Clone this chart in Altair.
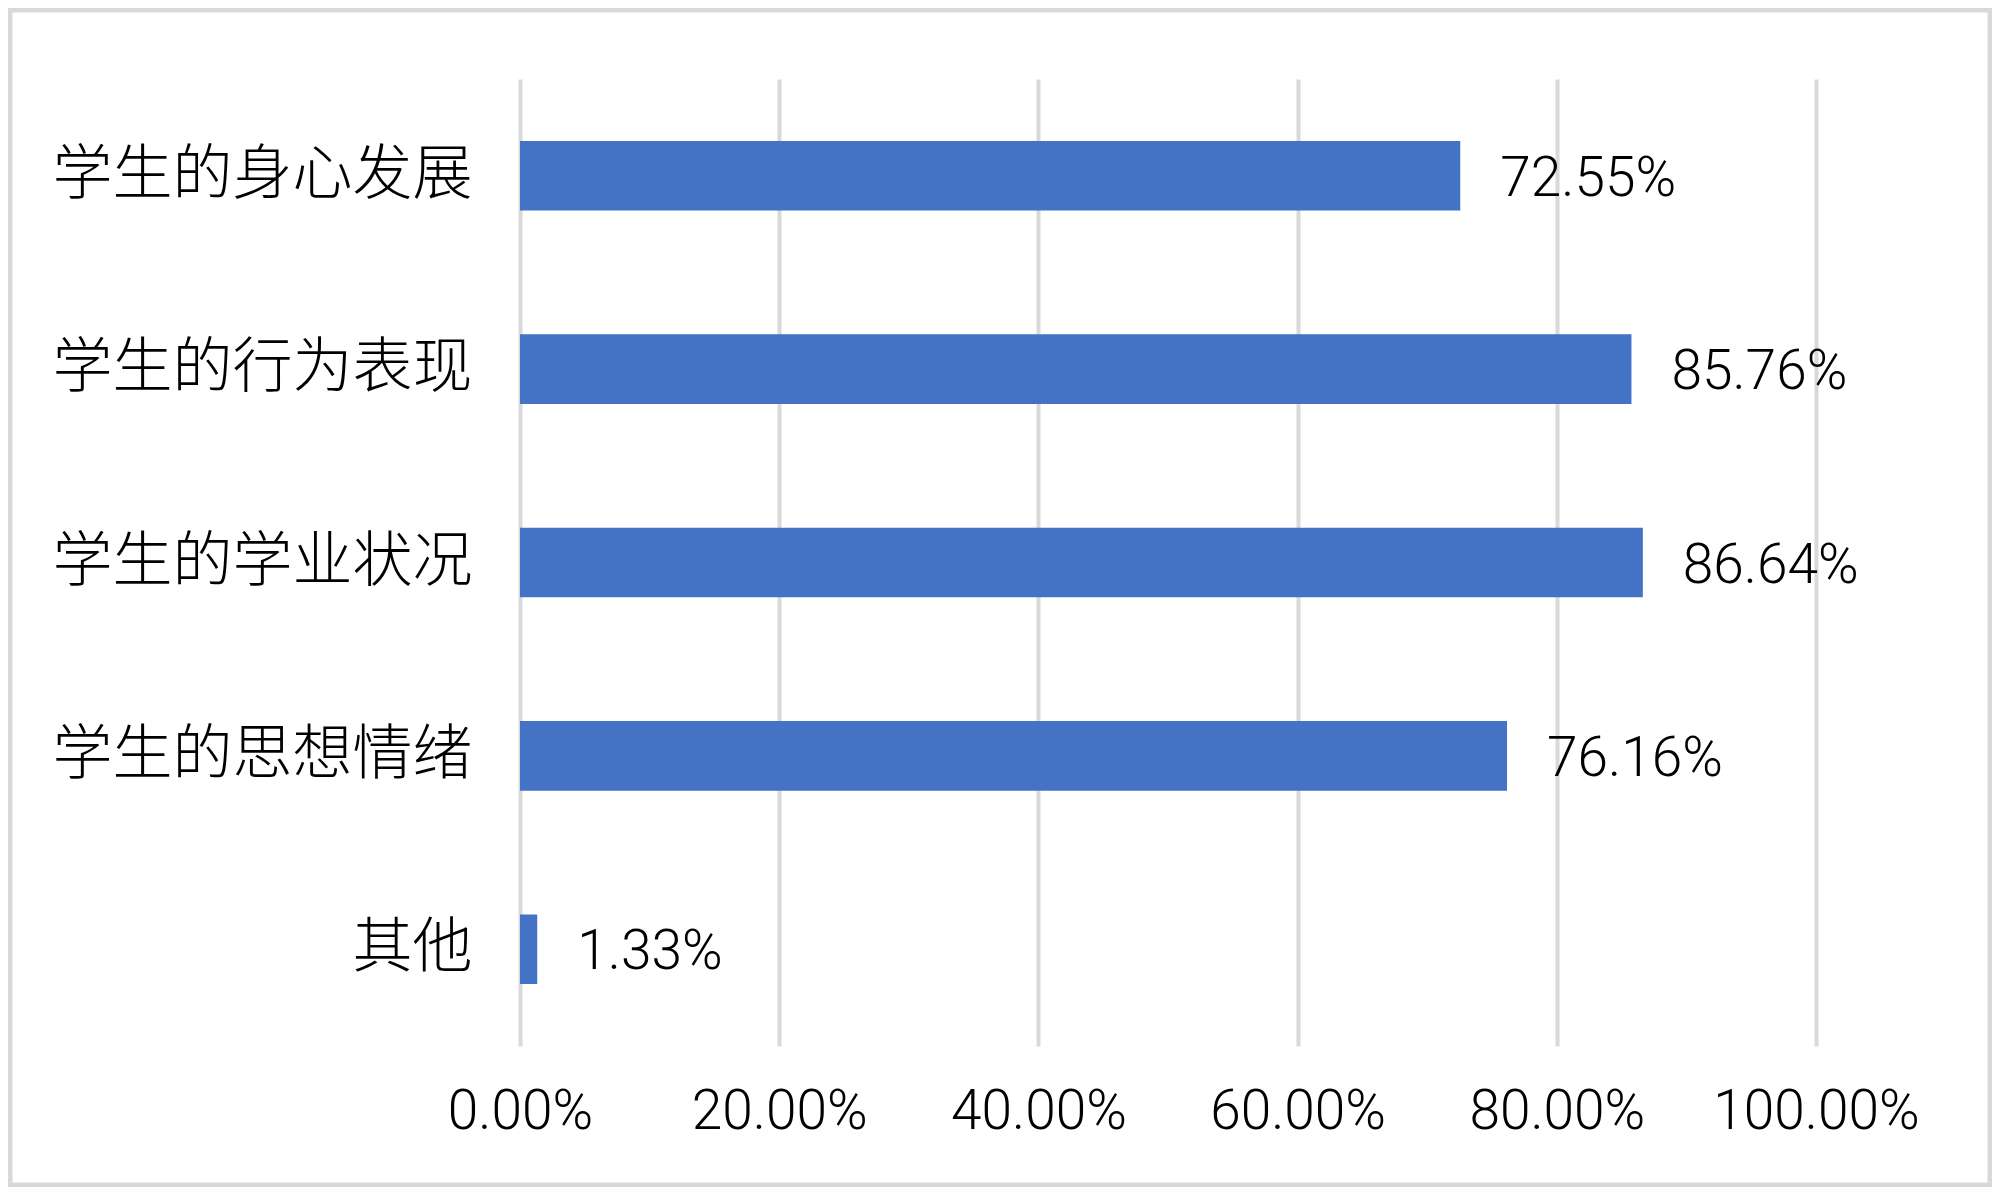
import altair as alt
import pandas as pd

categories = ["学生的身心发展", "学生的行为表现", "学生的学业状况", "学生的思想情绪", "其他"]
values = [72.55, 85.76, 86.64, 76.16, 1.33]
tick_values = [0, 20, 40, 60, 80, 100]

df = pd.DataFrame({"category": categories, "value": values})

NUM_FONT = "Roboto"
CJK_FONT = "Noto Sans CJK SC"

x_enc = alt.X(
    "value:Q",
    scale=alt.Scale(domain=[0, 100], nice=False, zero=True),
    axis=alt.Axis(
        values=tick_values,
        labelExpr="format(datum.value, '.2f') + '%'",
        title=None,
        domain=False,
        ticks=False,
        tickSize=0,
        labelPadding=39,
        labelFont=NUM_FONT,
        labelFontSize=55,
        labelFontWeight=300,
        labelColor="#000000",
        labelFlush=False,
        labelOverlap=False,
        labelBound=False,
        labelLimit=0,
        labelAlign="center",
        grid=True,
        gridColor="#d9d9d9",
        gridWidth=4,
    ),
)
y_enc = alt.Y(
    "category:N",
    sort=categories,
    scale=alt.Scale(paddingInner=0.64, paddingOuter=0.32),
    axis=alt.Axis(
        title=None,
        domain=False,
        ticks=False,
        tickSize=0,
        labelPadding=48,
        labelFont=CJK_FONT,
        labelFontSize=60,
        labelColor="#000000",
        labelFontWeight=300,
        labelLimit=0,
        grid=False,
    ),
)

bars = alt.Chart(df).mark_bar(color="#4472C4").encode(x=x_enc, y=y_enc)

labels = (
    alt.Chart(df)
    .transform_calculate(label="format(datum.value, '.2f') + '%'")
    .mark_text(align="left", baseline="middle", dx=40, dy=3, font=NUM_FONT, fontSize=55, fontWeight=300, color="#000000")
    .encode(x="value:Q", y=alt.Y("category:N", sort=categories), text="label:N")
)

frame = (
    alt.Chart(pd.DataFrame({"a": [0]}))
    .mark_rect(fill=None, stroke="#d9d9d9", strokeWidth=5)
    .encode(x=alt.value(-510), x2=alt.value(1470), y=alt.value(-69), y2=alt.value(1106))
)

chart = (
    alt.layer(frame, bars, labels)
    .properties(
        width=1296,
        height=967,
        autosize=alt.AutoSizeParams(type="none"),
        padding={"left": 512, "top": 71, "right": 176, "bottom": 141},
        background="#ffffff",
    )
    .configure_view(stroke=None)
)

chart.save("out.html", embed_options={"renderer": "svg", "actions": False})
